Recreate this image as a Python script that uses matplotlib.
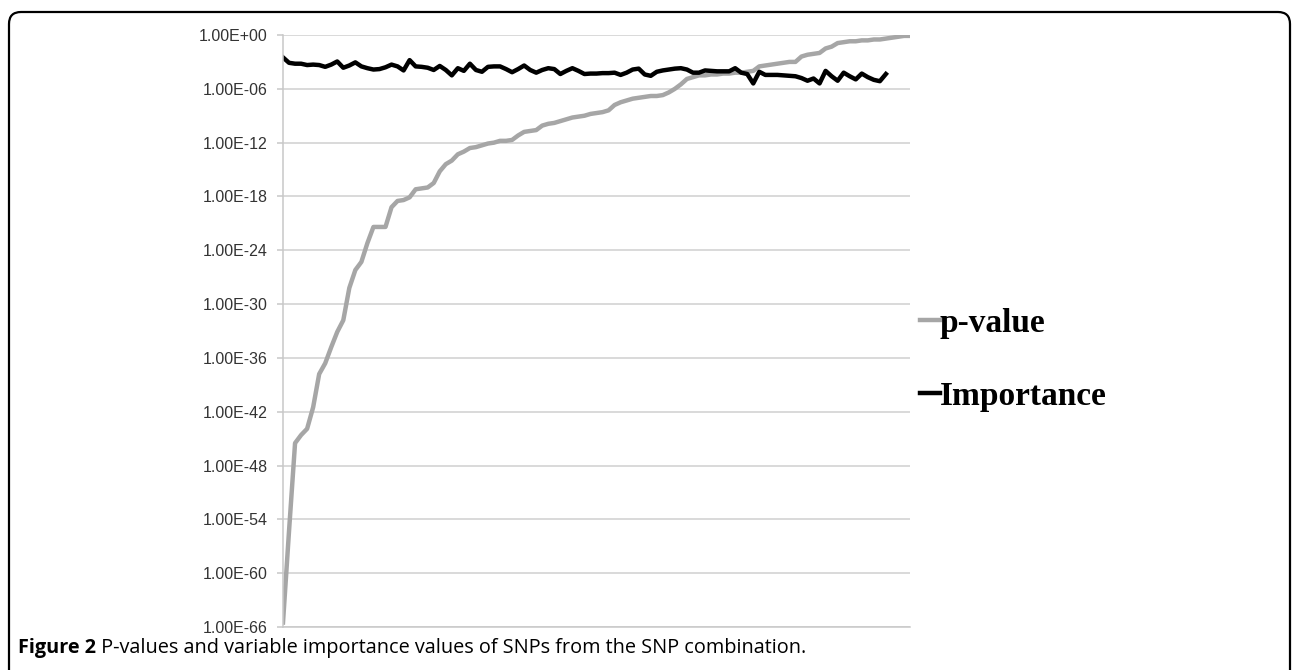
import numpy as np
import matplotlib.pyplot as plt
from matplotlib.patches import FancyBboxPatch
from matplotlib.ticker import FixedLocator, FuncFormatter

# log10 of the p-values, SNPs sorted by p-value
pval_log10 = [
    -65.5, -55.3, -45.5, -44.6, -43.9, -41.5, -37.8, -36.6, -34.8, -33.1,
    -31.8, -28.2, -26.2, -25.3, -23.2, -21.4, -21.4, -21.4, -19.2, -18.5,
    -18.4, -18.1, -17.2, -17.1, -17.0, -16.5, -15.2, -14.4, -14.0, -13.3,
    -13.0, -12.6, -12.5, -12.3, -12.1, -12.0, -11.8, -11.8, -11.7, -11.2,
    -10.8, -10.7, -10.6, -10.1, -9.9, -9.8, -9.6, -9.4, -9.2, -9.1,
    -9.0, -8.8, -8.7, -8.6, -8.4, -7.8, -7.5, -7.3, -7.1, -7.0,
    -6.9, -6.8, -6.8, -6.7, -6.4, -6.0, -5.5, -4.9, -4.7, -4.5,
    -4.5, -4.4, -4.4, -4.3, -4.3, -4.2, -4.2, -4.1, -4.0, -3.5,
    -3.4, -3.3, -3.2, -3.1, -3.0, -3.0, -2.4, -2.2, -2.1, -2.0,
    -1.5, -1.3, -0.9, -0.8, -0.7, -0.7, -0.6, -0.6, -0.5, -0.5,
    -0.4, -0.3, -0.2, -0.1, -0.1,
]

# log10 of the variable importance values
imp_log10 = [
    -2.5, -3.1, -3.2, -3.2, -3.35, -3.3, -3.35, -3.55, -3.3, -2.95,
    -3.65, -3.4, -3.05, -3.5, -3.7, -3.85, -3.8, -3.6, -3.3, -3.5,
    -3.95, -2.8, -3.5, -3.55, -3.65, -3.9, -3.45, -3.9, -4.5, -3.7,
    -4.0, -3.2, -3.9, -4.1, -3.55, -3.5, -3.5, -3.8, -4.15, -3.8,
    -3.4, -3.9, -4.2, -3.9, -3.7, -3.8, -4.35, -4.0, -3.7, -4.0,
    -4.35, -4.3, -4.3, -4.25, -4.25, -4.2, -4.45, -4.2, -3.85, -3.75,
    -4.4, -4.55, -4.1, -3.95, -3.85, -3.75, -3.7, -3.85, -4.2, -4.2,
    -3.95, -4.0, -4.05, -4.05, -4.05, -3.7, -4.2, -4.35, -5.4, -4.1,
    -4.45, -4.45, -4.45, -4.5, -4.55, -4.6, -4.8, -5.1, -4.85, -5.4,
    -4.0, -4.6, -5.1, -4.2, -4.6, -4.95, -4.3, -4.7, -5.0, -5.15,
    -4.35,
]

ytick_exps = [0, -6, -12, -18, -24, -30, -36, -42, -48, -54, -60, -66]

pvals = np.power(10.0, pval_log10)
imps = np.power(10.0, imp_log10)
x_p = np.arange(len(pvals))
x_i = np.arange(len(imps))

W, H = 1292, 670
fig = plt.figure(figsize=(W / 100, H / 100), dpi=100)
ax = fig.add_axes([283 / W, 1 - 627 / H, (910 - 283) / W, (627 - 35) / H])

ax.plot(x_p, pvals, color="#a6a6a6", lw=3.2, label="p-value", solid_joinstyle="round")
ax.plot(x_i, imps, color="black", lw=3.2, label="Importance", solid_joinstyle="round")

ax.set_yscale("log")
ax.set_ylim(1e-66, 1e0)
ax.set_xlim(0, len(pvals) - 1)
ax.yaxis.set_major_locator(FixedLocator([10.0 ** e for e in ytick_exps]))
ax.yaxis.set_minor_locator(FixedLocator([]))
ax.yaxis.set_major_formatter(FuncFormatter(
    lambda v, p: "1.00E%+03d" % int(round(np.log10(v)))))
ax.grid(axis="y", color="#d0d0d0", lw=1.1)
ax.set_axisbelow(True)
ax.set_xticks([])
for s in ["top", "right"]:
    ax.spines[s].set_visible(False)
ax.spines["left"].set_color("#c8c8c8")
ax.spines["bottom"].set_color("#c8c8c8")
ax.spines["left"].set_linewidth(1.1)
ax.spines["bottom"].set_linewidth(1.1)
ax.tick_params(axis="y", length=4, width=1.1, color="#c8c8c8", pad=7,
               labelsize=11.5, labelcolor="#333333")
for lab in ax.get_yticklabels():
    lab.set_family("Liberation Sans")

leg = ax.legend(loc="center left", bbox_to_anchor=(920 / W, 1 - 360 / H),
                bbox_transform=fig.transFigure, frameon=False, borderpad=0,
                borderaxespad=0, handlelength=0.6, handletextpad=0.0,
                labelspacing=1.25,
                prop={"family": "Liberation Serif", "weight": "bold", "size": 24})

# caption
t1 = fig.text(18 / W, 1 - 653 / H, "Figure 2", fontsize=14.3, fontweight="bold",
              family="Open Sans", va="baseline")
fig.canvas.draw()
bb = t1.get_window_extent()
fig.text(bb.x1 / W, 1 - 653 / H,
         " P-values and variable importance values of SNPs from the SNP combination.",
         fontsize=14.3, family="Open Sans", va="baseline")

# rounded frame round the figure panel
frame = FancyBboxPatch((9, -30), 1290 - 9, (H - 12) + 30,
                       boxstyle="round,pad=0,rounding_size=12",
                       transform=None, fill=False, ec="black", lw=1.6)
fig.add_artist(frame)

fig.savefig("out.png", dpi=100)
